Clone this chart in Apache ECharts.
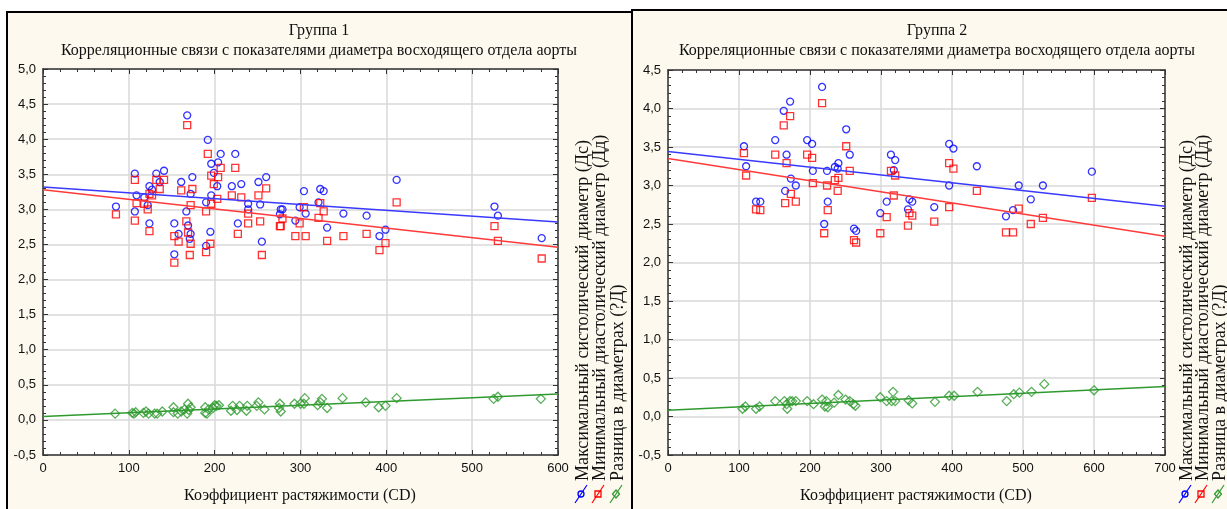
<!DOCTYPE html>
<html><head><meta charset="utf-8">
<script src="https://cdn.jsdelivr.net/npm/echarts@6/dist/echarts.min.js"></script>
<style>html,body{margin:0;padding:0;background:#fff}#c{width:1227px;height:509px}</style>
</head><body><div id="c"></div>
<script>
// ---------- DATA ----------
const titles1 = ['Группа 1', 'Корреляционные связи с показателями диаметра восходящего отдела аорты'];
const titles2 = ['Группа 2', 'Корреляционные связи с показателями диаметра восходящего отдела аорты'];
const xAxisTitle = 'Коэффициент растяжимости (CD)';
const legendNames = ['Максимальный систолический диаметр (Дс)', 'Минимальный диастолический диаметр (Дд)', 'Разница в диаметрах (?Д)'];

// Group 1
const g1_cd = [85,107,109,107,118,124,127,124,122,132,136,141,153,153,158,161,167,168,169,171,172,172,174,190,190,192,195,196,196,199,203,204,207,220,224,227,231,239,239,251,253,255,260,276,277,279,294,299,304,306,321,323,327,331,350,377,392,399,412,526,530,581];
const g1_ds = [3.04,3.51,3.20,2.97,3.17,3.33,3.28,2.80,3.06,3.51,3.39,3.55,2.80,2.36,2.65,3.39,2.97,4.34,2.77,2.58,2.65,3.22,3.46,3.10,2.48,3.99,2.68,3.65,3.20,3.52,3.33,3.67,3.79,3.33,3.79,2.80,3.36,3.08,3.00,3.39,3.07,2.54,3.46,2.93,3.00,3.00,2.84,3.03,3.26,2.94,3.10,3.29,3.26,2.74,2.94,2.91,2.62,2.71,3.42,3.04,2.91,2.59];
const g1_dd = [2.93,3.42,3.09,2.84,3.08,3.22,3.20,2.69,3.00,3.42,3.29,3.42,2.62,2.24,2.54,3.27,2.83,4.20,2.67,2.35,2.51,3.06,3.29,2.97,2.39,3.79,2.51,3.48,3.08,3.36,3.15,3.46,3.59,3.20,3.59,2.65,3.17,2.94,2.80,3.20,2.83,2.35,3.30,2.76,2.76,2.87,2.62,2.80,3.03,2.62,2.88,3.09,2.97,2.55,2.62,2.65,2.42,2.52,3.10,2.76,2.55,2.30];
const g1_diff_cd = [84,104,106,108,117,120,123,130,133,139,152,152,157,161,165,168,169,170,172,189,189,191,193,198,200,202,205,219,221,226,229,237,238,249,251,258,275,276,277,293,300,304,305,320,323,325,331,349,376,391,399,412,525,530,580];
const g1_diff = [0.09,0.10,0.09,0.11,0.10,0.12,0.09,0.09,0.09,0.12,0.18,0.11,0.09,0.12,0.15,0.09,0.23,0.14,0.18,0.18,0.10,0.09,0.15,0.17,0.21,0.20,0.21,0.13,0.20,0.14,0.20,0.13,0.20,0.20,0.25,0.15,0.17,0.23,0.12,0.23,0.23,0.23,0.31,0.21,0.25,0.30,0.17,0.31,0.25,0.18,0.20,0.31,0.30,0.33,0.30];
const g1_trend_x = [0, 600];
const g1_trend_ds = [3.32, 2.82];
const g1_trend_dd = [3.28, 2.46];
const g1_trend_diff = [0.05, 0.37];

// Group 2
const g2_cd = [107,110,124,130,151,163,172,165,167,173,180,196,203,204,217,220,224,225,235,240,239,251,256,262,265,299,308,314,320,318,338,340,344,375,396,402,396,435,476,486,494,511,528,597];
const g2_ds = [3.51,3.25,2.79,2.79,3.59,3.97,4.09,2.93,3.40,3.09,3.00,3.59,3.54,3.19,4.28,2.50,3.19,2.79,3.24,3.29,3.22,3.73,3.40,2.44,2.41,2.64,2.79,3.40,3.33,3.20,2.69,2.82,2.79,2.72,3.54,3.48,3.00,3.25,2.60,2.68,3.00,2.82,3.00,3.18];
const g2_dd = [3.42,3.13,2.69,2.68,3.40,3.78,3.90,2.77,3.29,2.89,2.79,3.40,3.36,3.03,4.07,2.38,3.00,2.68,3.07,3.10,2.93,3.51,3.19,2.29,2.26,2.38,2.59,3.19,3.13,2.87,2.48,2.64,2.61,2.53,3.29,3.22,2.72,2.93,2.39,2.39,2.70,2.50,2.58,2.84];
const g2_diff_cd = [105,109,124,129,151,164,167,168,172,175,180,196,205,217,221,223,225,234,240,250,256,261,264,299,308,315,317,320,339,344,376,396,403,436,477,487,495,512,530,600];
const g2_diff = [0.10,0.13,0.10,0.13,0.20,0.20,0.16,0.10,0.20,0.20,0.20,0.20,0.16,0.22,0.13,0.20,0.12,0.18,0.28,0.22,0.20,0.16,0.14,0.25,0.20,0.20,0.32,0.20,0.21,0.17,0.19,0.27,0.27,0.32,0.20,0.29,0.31,0.32,0.42,0.34];
const g2_trend_x = [0, 700];
const g2_trend_ds = [3.44, 2.73];
const g2_trend_dd = [3.35, 2.34];
const g2_trend_diff = [0.08, 0.39];

// ---------- STYLE ----------
const BLUE = '#0000ff', RED = '#ff0000', GREEN = '#2f9a2f';
const LBLUE = '#3a3aff', LRED = '#ff3a3a', LGREEN = '#2e9a2e';
const CREAM = '#fdf9ee';
const tickFont = { fontFamily: "'Liberation Sans Narrow','Liberation Sans',Arial", fontSize: 13, color: '#111' };
const serif = "'Liberation Serif','DejaVu Serif',serif";

const zip = (a, b) => a.map((v, i) => [v, b[i]]);
const fmt = v => v.toFixed(1).replace('.', ',');

const grids = [
  { left: 43, top: 69, width: 515, height: 386 },
  { left: 668, top: 70, width: 497, height: 385 }
];
const xMax = [600, 700];

function axesFor(gi) {
  const common = {
    gridIndex: gi, axisLine: { show: true, onZero: false, lineStyle: { color: '#333', width: 1.5 } },
    axisTick: { show: true, inside: true, length: 5, lineStyle: { color: '#333' } },
    minorTick: { show: true, splitNumber: 5, length: 3, lineStyle: { color: '#333' } },
  };
  const xs = [
    Object.assign({}, common, { type: 'value', min: 0, max: xMax[gi], interval: 100, position: 'bottom',
      splitLine: { show: true, lineStyle: { color: '#d8d8d8', width: 1.5 } },
      axisLabel: Object.assign({ margin: 7, formatter: v => String(v) }, tickFont) }),
    Object.assign({}, common, { type: 'value', min: 0, max: xMax[gi], interval: 100, position: 'top',
      splitLine: { show: false }, axisLabel: { show: false } })
  ];
  const ys = [
    Object.assign({}, common, { type: 'value', min: -0.5, max: gi === 0 ? 5.0 : 4.5, interval: 0.5, position: 'left',
      splitLine: { show: true, lineStyle: { color: '#d8d8d8', width: 1.5 } },
      axisLabel: Object.assign({ margin: 7, formatter: fmt }, tickFont) }),
    Object.assign({}, common, { type: 'value', min: -0.5, max: gi === 0 ? 5.0 : 4.5, interval: 0.5, position: 'right',
      splitLine: { show: false }, axisLabel: { show: false } })
  ];
  return { xs, ys };
}

const a0 = axesFor(0), a1 = axesFor(1);
const xAxis = [...a0.xs, ...a1.xs];   // 0,1 grid0 ; 2,3 grid1
const yAxis = [...a0.ys, ...a1.ys];

function scatter(xi, data, symbol, color, size) {
  return { type: 'scatter', xAxisIndex: xi, yAxisIndex: xi, data, symbol, symbolSize: size, z: 3,
    itemStyle: { color: 'rgba(0,0,0,0)', borderColor: color, borderWidth: 1.3 }, silent: true };
}
function trend(xi, xs, ys, color) {
  return { type: 'line', xAxisIndex: xi, yAxisIndex: xi, data: zip(xs, ys), symbol: 'none', z: 4,
    lineStyle: { color, width: 1.5 }, silent: true };
}

const series = [
  scatter(0, zip(g1_cd, g1_ds), 'circle', BLUE, 7),
  scatter(0, zip(g1_cd, g1_dd), 'rect', RED, 7),
  scatter(0, zip(g1_diff_cd, g1_diff), 'diamond', GREEN, 9),
  trend(0, g1_trend_x, g1_trend_ds, LBLUE),
  trend(0, g1_trend_x, g1_trend_dd, LRED),
  trend(0, g1_trend_x, g1_trend_diff, LGREEN),
  scatter(2, zip(g2_cd, g2_ds), 'circle', BLUE, 7),
  scatter(2, zip(g2_cd, g2_dd), 'rect', RED, 7),
  scatter(2, zip(g2_diff_cd, g2_diff), 'diamond', GREEN, 9),
  trend(2, g2_trend_x, g2_trend_ds, LBLUE),
  trend(2, g2_trend_x, g2_trend_dd, LRED),
  trend(2, g2_trend_x, g2_trend_diff, LGREEN),
];

function legendGraphics(cols, baseY) {
  const out = [];
  const cols3 = [BLUE, RED, GREEN];
  const shapes = ['circle', 'rect', 'diamond'];
  cols.forEach((cx, i) => {
    out.push({ type: 'text', x: cx, y: baseY, rotation: Math.PI / 2,
      style: { text: legendNames[i], font: "18px " + serif, fill: '#111', textAlign: 'left', textVerticalAlign: 'middle' } });
    const sx = cx - 2, sy = 494;
    out.push({ type: 'line', shape: { x1: sx - 6, y1: sy + 9, x2: sx + 6, y2: sy - 9 }, style: { stroke: cols3[i], lineWidth: 1.2 } });
    if (shapes[i] === 'circle') out.push({ type: 'circle', shape: { cx: sx, cy: sy, r: 3 }, style: { fill: 'none', stroke: cols3[i], lineWidth: 1.3 } });
    else if (shapes[i] === 'rect') out.push({ type: 'rect', shape: { x: sx - 3, y: sy - 3, width: 6, height: 6 }, style: { fill: 'none', stroke: cols3[i], lineWidth: 1.3 } });
    else out.push({ type: 'polygon', shape: { points: [[sx, sy - 4], [sx + 3.5, sy], [sx, sy + 4], [sx - 3.5, sy]] }, style: { fill: 'none', stroke: cols3[i], lineWidth: 1.3 } });
  });
  return out;
}

const graphic = [
  { type: 'rect', shape: { x: 7, y: 12, width: 625, height: 510 }, style: { fill: CREAM, stroke: '#000', lineWidth: 2 }, z: -10 },
  { type: 'rect', shape: { x: 632, y: 10, width: 600, height: 512 }, style: { fill: CREAM, stroke: '#000', lineWidth: 2 }, z: -10 },
  { type: 'text', x: 319, y: 31, style: { text: titles1[0], font: "16px " + serif, fill: '#111', textAlign: 'center', textVerticalAlign: 'middle' } },
  { type: 'text', x: 319, y: 51, style: { text: titles1[1], font: "16px " + serif, fill: '#111', textAlign: 'center', textVerticalAlign: 'middle' } },
  { type: 'text', x: 937, y: 31, style: { text: titles2[0], font: "16px " + serif, fill: '#111', textAlign: 'center', textVerticalAlign: 'middle' } },
  { type: 'text', x: 937, y: 51, style: { text: titles2[1], font: "16px " + serif, fill: '#111', textAlign: 'center', textVerticalAlign: 'middle' } },
  { type: 'text', x: 300, y: 496, style: { text: xAxisTitle, font: "16px " + serif, fill: '#111', textAlign: 'center', textVerticalAlign: 'middle' } },
  { type: 'text', x: 916, y: 496, style: { text: xAxisTitle, font: "16px " + serif, fill: '#111', textAlign: 'center', textVerticalAlign: 'middle' } },
  ...legendGraphics([583, 600, 618], 481),
  ...legendGraphics([1187, 1203, 1220], 481)
];

const chart = echarts.init(document.getElementById('c'), null, { renderer: 'canvas' });
chart.setOption({
  backgroundColor: '#ffffff',
  animation: false,
  grid: grids.map(g => Object.assign({ show: true, backgroundColor: '#ffffff', borderWidth: 0 }, g)),
  xAxis, yAxis, series, graphic
});
</script></body></html>
